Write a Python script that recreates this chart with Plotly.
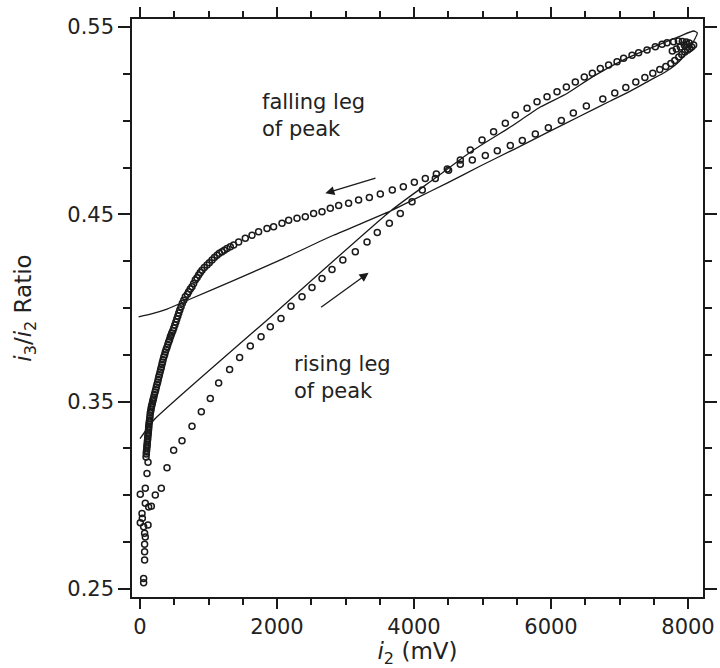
import plotly.graph_objects as go

# ---- data ----
rise_x = [53, 53, 67, 67, 67, 77, 4, 29, 4, 223, 311, 394, 491, 613, 759, 895, 1026, 1148, 1308,
          1454, 1610, 1767, 1902, 2058, 2204, 2365, 2511, 2657, 2803, 2961, 3143, 3314, 3464, 3640,
          3800, 3971, 4121, 4311, 4505, 4676, 4822, 4993, 5162, 5333, 5479, 5650, 5796, 5942, 6088,
          6224, 6355, 6486, 6603, 6720, 6841, 6964, 7060, 7183, 7279, 7402, 7523, 7621, 7694, 7790,
          7859, 7917, 7975, 8019]
rise_y = [0.2533, 0.2556, 0.2654, 0.2698, 0.2739, 0.2778, 0.2853, 0.2903, 0.3006, 0.3001, 0.3037,
          0.3147, 0.3241, 0.3291, 0.3369, 0.3446, 0.3517, 0.3599, 0.3672, 0.3736, 0.3797, 0.3846,
          0.3900, 0.3944, 0.4010, 0.4060, 0.4110, 0.4158, 0.4206, 0.4256, 0.4300, 0.4353, 0.4403,
          0.4453, 0.4505, 0.4567, 0.4630, 0.4692, 0.4736, 0.4790, 0.4843, 0.4897, 0.4941, 0.4986,
          0.5030, 0.5066, 0.5101, 0.5128, 0.5155, 0.5180, 0.5206, 0.5233, 0.5254, 0.5279, 0.5297,
          0.5315, 0.5333, 0.5350, 0.5363, 0.5377, 0.5395, 0.5408, 0.5416, 0.5422, 0.5425, 0.5423,
          0.5420, 0.5415]

fall_x = [8082, 8054, 8025, 7996, 7953, 7909, 7865, 7807, 7749, 7676, 7588, 7486, 7370, 7238, 7092,
          6931, 6756, 6516, 6326, 6151, 5961, 5771, 5581, 5406, 5216, 5041, 4851, 4676, 4486, 4326,
          4165, 4005, 3844, 3683, 3508, 3348, 3191, 3045, 2900, 2778, 2657, 2534, 2413, 2292, 2170,
          2073, 1950, 1854, 1731, 1635, 1537, 1440, 1367, 1270, 1197, 1124, 1051, 978, 905, 856, 807,
          759, 710, 661, 618, 581, 552, 523, 493, 464, 442, 418, 394, 369, 347, 328, 311, 293, 274,
          257, 238, 220, 201, 187, 172, 161, 150, 143, 136, 128, 124, 118, 112, 107, 102, 96, 92, 88,
          117, 102, 77, 77, 126, 165, 53, 117, 67, 34]
fall_y = [0.5404, 0.5393, 0.5385, 0.5377, 0.5367, 0.5353, 0.5340, 0.5321, 0.5305, 0.5289, 0.5273,
          0.5254, 0.5230, 0.5206, 0.5177, 0.5148, 0.5116, 0.5078, 0.5041, 0.5001, 0.4963, 0.4929,
          0.4894, 0.4867, 0.4840, 0.4814, 0.4790, 0.4768, 0.4742, 0.4715, 0.4692, 0.4672, 0.4647,
          0.4630, 0.4608, 0.4590, 0.4576, 0.4559, 0.4547, 0.4532, 0.4514, 0.4505, 0.4487, 0.4479,
          0.4469, 0.4452, 0.4434, 0.4425, 0.4407, 0.4389, 0.4372, 0.4353, 0.4336, 0.4318, 0.4300,
          0.4282, 0.4256, 0.4229, 0.4202, 0.4176, 0.4149, 0.4113, 0.4087, 0.4060, 0.4026, 0.3989,
          0.3957, 0.3925, 0.3893, 0.3866, 0.3845, 0.3818, 0.3791, 0.3765, 0.3738, 0.3711, 0.3684,
          0.3658, 0.3631, 0.3604, 0.3578, 0.3551, 0.3524, 0.3503, 0.3481, 0.3460, 0.3439, 0.3412,
          0.3391, 0.3369, 0.3348, 0.3327, 0.3305, 0.3284, 0.3263, 0.3241, 0.3220, 0.3204,
          0.3177, 0.3117, 0.3037, 0.2957, 0.2938, 0.2942, 0.2832, 0.2841, 0.2798, 0.2878]

# extra samples along the dense (dark) stretches: the falling leg near the origin and the peak turn
fall_dense_x = [1318, 1231, 1158, 1085, 1012, 939, 880, 832, 783, 734, 691, 639, 599, 566, 537,
                508, 479, 453, 431, 406, 381, 359, 337, 320, 302, 283, 266, 247, 229, 210, 194,
                180, 166, 155, 146, 139, 131, 126, 121, 115, 110, 104, 99, 93,
                7990, 7946, 7888, 7830, 7771]
fall_dense_y = [0.4327, 0.4309, 0.4292, 0.4269, 0.4242, 0.4216, 0.4189, 0.4162, 0.4131, 0.4101,
                0.4074, 0.4042, 0.4007, 0.3973, 0.3941, 0.3909, 0.3879, 0.3855, 0.3831, 0.3805,
                0.3778, 0.3751, 0.3724, 0.3698, 0.3671, 0.3644, 0.3618, 0.3591, 0.3564, 0.3538,
                0.3514, 0.3492, 0.3471, 0.3449, 0.3425, 0.3401, 0.3380, 0.3359, 0.3337, 0.3316,
                0.3295, 0.3273, 0.3252, 0.3231,
                0.5407, 0.5404, 0.5393, 0.5383, 0.5372]

fit_x = [0, 77, 199, 1902, 3654, 4311, 4822, 5406, 5844, 6234, 6622, 7110, 7596, 7888, 8082, 8136,
         8092, 8019, 7931, 7815, 7669, 7450, 7158, 6866, 6428, 5942, 5454, 4968, 4482, 3994, 3654,
         2816, 2092, 1362, 734, 394, 180, -20]
fit_y = [0.3303, 0.3342, 0.3401, 0.3951, 0.4517, 0.4694, 0.4832, 0.4966, 0.5073, 0.5145, 0.5238,
         0.5334, 0.5409, 0.5452, 0.5479, 0.5468, 0.5431, 0.5383, 0.5340, 0.5297, 0.5260, 0.5217,
         0.5158, 0.5105, 0.5025, 0.4936, 0.4846, 0.4758, 0.4667, 0.4579, 0.4517, 0.4387, 0.4264,
         0.4146, 0.4048, 0.3994, 0.3970, 0.3953]

x_ticks = [0, 2000, 4000, 6000, 8000]
y_ticks = [0.25, 0.35, 0.45, 0.55]

FONT = "DejaVu Sans"
INK = "#1a1a1a"

fig = go.Figure()
fig.add_trace(go.Scatter(x=fit_x, y=fit_y, mode="lines", line_shape="spline",
                         line=dict(color=INK, width=1.3, smoothing=0.6), hoverinfo="skip"))
marker = dict(symbol="circle-open", size=6, color=INK, line=dict(width=1.5, color=INK))
fig.add_trace(go.Scatter(x=rise_x, y=rise_y, mode="markers", marker=marker))
fig.add_trace(go.Scatter(x=fall_x, y=fall_y, mode="markers", marker=marker))
fig.add_trace(go.Scatter(x=fall_dense_x, y=fall_dense_y, mode="markers", marker=marker))

axis_common = dict(
    showline=True, linecolor=INK, linewidth=1.5, mirror="allticks",
    ticks="outside", tickwidth=1.5, tickcolor=INK,
    showgrid=False, zeroline=False,
    tickfont=dict(family=FONT, size=21, color="#222"),
)

fig.update_xaxes(
    range=[-117, 8219], tickmode="array", tickvals=x_ticks, ticklen=10,
    ticktext=[str(v) for v in x_ticks],
    minor=dict(dtick=500, tick0=0, ticks="outside", ticklen=6, tickwidth=1.5, tickcolor=INK),
    title=dict(text="<i>i</i><sub>2</sub> (mV)", font=dict(family=FONT, size=23, color="#222"),
               standoff=4),
    **axis_common)
fig.update_yaxes(
    range=[0.2457, 0.5543], tickmode="array", tickvals=y_ticks, ticklen=12,
    ticktext=[f"{v:.2f}" for v in y_ticks],
    minor=dict(dtick=0.025, tick0=0.25, ticks="outside", ticklen=7, tickwidth=1.5, tickcolor=INK),
    title=dict(text="<i>i</i><sub>3</sub>/<i>i</i><sub>2</sub> Ratio",
               font=dict(family=FONT, size=23, color="#222"), standoff=29),
    **axis_common)

txt_font = dict(family=FONT, size=21, color="#222")
fig.add_annotation(x=1756, y=0.5028, text="falling leg<br>of peak", showarrow=False,
                   xanchor="left", yanchor="middle", align="left", font=txt_font)
fig.add_annotation(x=2224, y=0.3631, text="rising leg<br>of peak", showarrow=False,
                   xanchor="left", yanchor="middle", align="left", font=txt_font)
fig.add_annotation(x=2705, y=0.4612, ax=51.7, ay=-15.6, text="", showarrow=True,
                   arrowhead=2, arrowsize=1.4, arrowwidth=1.3, arrowcolor=INK, standoff=0)
fig.add_annotation(x=3337, y=0.4188, ax=-49, ay=35.6, text="", showarrow=True,
                   arrowhead=2, arrowsize=1.4, arrowwidth=1.3, arrowcolor=INK, standoff=0)

fig.update_layout(
    width=720, height=668, showlegend=False,
    margin=dict(l=132, r=17, t=19, b=71, autoexpand=False),
    plot_bgcolor="white", paper_bgcolor="white",
)

fig.write_html("out.html")
